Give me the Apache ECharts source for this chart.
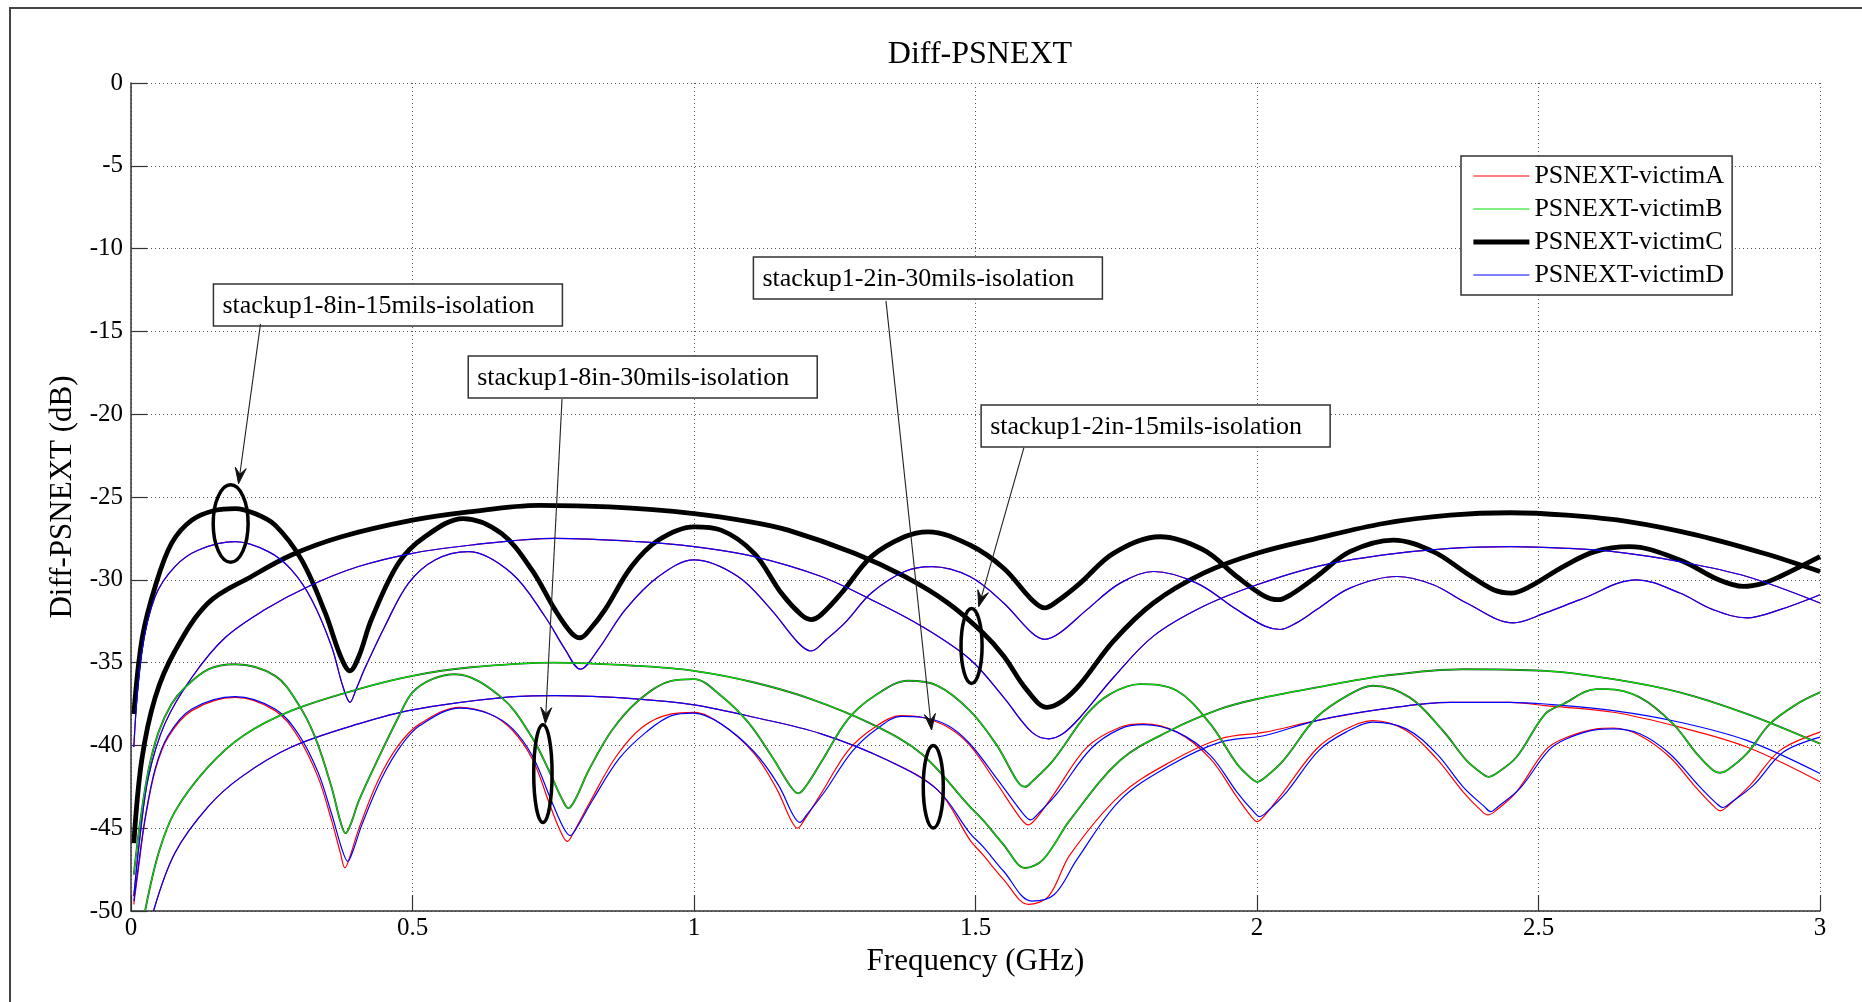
<!DOCTYPE html>
<html>
<head>
<meta charset="utf-8">
<title>Diff-PSNEXT</title>
<script src="https://cdn.jsdelivr.net/npm/echarts@6/dist/echarts.min.js"></script>
<style>
  html, body { margin: 0; padding: 0; background: #fff; }
  #main { width: 1862px; height: 1002px; }
</style>
</head>
<body>
<div id="main"></div>
<script>
// legend names (one per victim)
const victimNames = ['PSNEXT-victimA', 'PSNEXT-victimB', 'PSNEXT-victimC', 'PSNEXT-victimD'];

// [frequency GHz, dB]
// victim C (B lies under it) - 15mils isolation
const c8in15 = [[0.005,-38.1],[0.02,-33.5],[0.043,-30.4],[0.072,-27.8],[0.108,-26.4],[0.15,-25.8],[0.185,-25.7],[0.22,-26.0],[0.256,-26.7],[0.303,-28.8],[0.345,-32.0],[0.372,-34.6],[0.389,-35.5],[0.405,-34.6],[0.427,-32.4],[0.475,-29.0],[0.522,-27.4],[0.59,-26.3],[0.658,-27.2],[0.712,-29.4],[0.753,-31.8],[0.782,-33.2],[0.798,-33.5],[0.815,-33.0],[0.842,-31.8],[0.889,-29.2],[0.937,-27.6],[1.0,-26.8],[1.048,-27.0],[1.107,-28.4],[1.155,-30.8],[1.19,-32.1],[1.208,-32.4],[1.226,-32.1],[1.262,-30.8],[1.315,-28.6],[1.374,-27.4],[1.416,-27.1],[1.49,-27.9],[1.55,-29.3],[1.6,-31.2],[1.623,-31.7],[1.645,-31.3],[1.686,-30.2],[1.745,-28.4],[1.828,-27.4],[1.905,-28.2],[1.964,-29.8],[2.014,-31.0],[2.038,-31.2],[2.06,-30.9],[2.106,-29.8],[2.165,-28.3],[2.242,-27.6],[2.313,-28.3],[2.372,-29.6],[2.42,-30.6],[2.452,-30.8],[2.485,-30.4],[2.544,-29.2],[2.6,-28.3],[2.662,-28.0],[2.751,-28.8],[2.82,-30.0],[2.864,-30.4],[2.9,-30.2],[2.929,-29.8],[3.0,-28.6]];
const c2in15 = [[0.005,-45.9],[0.019,-40.9],[0.043,-37.1],[0.078,-34.3],[0.137,-31.4],[0.214,-29.8],[0.285,-28.5],[0.374,-27.4],[0.5,-26.4],[0.6,-25.9],[0.724,-25.5],[0.85,-25.6],[1.0,-26.0],[1.1,-26.5],[1.167,-27.0],[1.285,-28.4],[1.374,-29.8],[1.451,-31.4],[1.513,-33.2],[1.55,-34.6],[1.59,-36.6],[1.627,-37.7],[1.655,-37.3],[1.686,-36.3],[1.745,-33.7],[1.816,-31.4],[1.905,-29.6],[2.0,-28.4],[2.106,-27.5],[2.225,-26.6],[2.343,-26.1],[2.45,-25.95],[2.55,-26.1],[2.662,-26.5],[2.781,-27.3],[2.9,-28.4],[3.0,-29.5]];

// victims A and D - 15mils isolation (they overlap)
const ad8in15 = [[0.005,-40.1],[0.019,-34.4],[0.043,-31.0],[0.078,-29.2],[0.12,-28.2],[0.185,-27.7],[0.244,-28.3],[0.285,-29.4],[0.321,-31.2],[0.356,-34.0],[0.376,-36.4],[0.389,-37.4],[0.4,-36.6],[0.416,-35.3],[0.451,-32.8],[0.493,-30.2],[0.54,-28.8],[0.599,-28.3],[0.676,-29.6],[0.735,-32.2],[0.771,-34.2],[0.798,-35.4],[0.83,-34.2],[0.878,-31.8],[0.937,-29.8],[1.0,-28.8],[1.078,-29.8],[1.137,-31.8],[1.185,-33.8],[1.208,-34.3],[1.235,-33.6],[1.268,-32.6],[1.315,-30.8],[1.374,-29.5],[1.422,-29.2],[1.49,-29.8],[1.55,-31.4],[1.6,-33.2],[1.623,-33.6],[1.65,-33.2],[1.698,-31.8],[1.757,-30.2],[1.816,-29.5],[1.893,-30.2],[1.964,-31.8],[2.014,-32.8],[2.041,-33.0],[2.07,-32.6],[2.106,-31.8],[2.165,-30.5],[2.248,-29.8],[2.313,-30.3],[2.372,-31.4],[2.455,-32.6],[2.512,-32.0],[2.574,-31.2],[2.674,-30.0],[2.751,-30.8],[2.81,-31.8],[2.87,-32.3],[2.929,-31.8],[3.0,-30.9]];
const ad2in15 = [[0.005,-49.1],[0.016,-45.5],[0.031,-41.9],[0.06,-38.7],[0.108,-35.9],[0.167,-33.5],[0.238,-31.8],[0.315,-30.4],[0.404,-29.2],[0.5,-28.4],[0.605,-27.9],[0.753,-27.5],[0.901,-27.7],[1.0,-28.0],[1.107,-28.6],[1.226,-29.8],[1.315,-31.2],[1.404,-32.8],[1.49,-34.8],[1.55,-37.1],[1.6,-39.2],[1.63,-39.6],[1.655,-39.3],[1.686,-38.3],[1.745,-35.9],[1.816,-33.4],[1.905,-31.6],[2.0,-30.3],[2.106,-29.2],[2.225,-28.5],[2.343,-28.1],[2.45,-28.0],[2.55,-28.1],[2.633,-28.3],[2.751,-28.9],[2.87,-29.8],[3.0,-31.4]];

// victims B and C - 30mils isolation
const bc8in30 = [[0.005,-47.8],[0.016,-44.7],[0.031,-41.5],[0.049,-39.2],[0.072,-37.5],[0.096,-36.5],[0.138,-35.4],[0.185,-35.1],[0.256,-35.8],[0.297,-37.5],[0.327,-39.5],[0.356,-42.5],[0.372,-44.6],[0.381,-45.3],[0.392,-44.6],[0.404,-43.4],[0.439,-40.8],[0.475,-38.3],[0.5,-36.8],[0.535,-36.0],[0.576,-35.7],[0.658,-37.1],[0.712,-39.5],[0.742,-41.5],[0.765,-43.2],[0.777,-43.8],[0.79,-43.2],[0.813,-41.5],[0.854,-39.1],[0.901,-37.3],[0.96,-36.1],[1.0,-36.0],[1.048,-37.0],[1.096,-38.6],[1.137,-40.6],[1.172,-42.5],[1.185,-42.9],[1.198,-42.5],[1.226,-41.0],[1.274,-38.4],[1.321,-37.0],[1.38,-36.1],[1.433,-36.4],[1.49,-37.9],[1.538,-40.0],[1.575,-42.2],[1.588,-42.5],[1.6,-42.2],[1.638,-40.9],[1.698,-38.1],[1.739,-36.9],[1.792,-36.3],[1.858,-36.7],[1.917,-38.7],[1.964,-41.1],[1.99,-42.0],[2.0,-42.2],[2.012,-42.0],[2.047,-40.9],[2.106,-38.3],[2.165,-36.9],[2.206,-36.4],[2.271,-37.1],[2.33,-39.1],[2.372,-40.9],[2.4,-41.7],[2.411,-41.9],[2.425,-41.7],[2.461,-40.7],[2.512,-38.1],[2.544,-37.5],[2.603,-36.6],[2.621,-36.6],[2.68,-37.1],[2.739,-38.7],[2.781,-40.5],[2.81,-41.5],[2.822,-41.65],[2.835,-41.5],[2.87,-40.5],[2.911,-38.7],[2.959,-37.5],[3.0,-36.8]];
const bc2in30 = [[0.025,-50],[0.049,-46.5],[0.078,-44.0],[0.137,-41.3],[0.2,-39.4],[0.285,-37.9],[0.404,-36.6],[0.5,-35.8],[0.6,-35.3],[0.75,-35.0],[0.9,-35.2],[1.0,-35.5],[1.107,-36.2],[1.208,-37.2],[1.315,-38.7],[1.404,-40.5],[1.49,-43.7],[1.513,-44.5],[1.55,-46.0],[1.588,-47.4],[1.62,-46.9],[1.668,-44.5],[1.757,-40.9],[1.846,-39.1],[1.935,-37.8],[2.0,-37.2],[2.106,-36.5],[2.225,-35.8],[2.366,-35.4],[2.512,-35.5],[2.633,-36.0],[2.751,-36.8],[2.87,-38.1],[3.0,-39.9]];

// victim A - 30mils isolation
const a8in30 = [[0.005,-49.6],[0.013,-47.5],[0.025,-44.5],[0.043,-41.5],[0.066,-39.5],[0.108,-37.9],[0.185,-37.1],[0.256,-37.9],[0.297,-39.5],[0.332,-41.9],[0.356,-44.5],[0.372,-46.5],[0.38,-47.4],[0.39,-46.6],[0.404,-45.1],[0.439,-42.1],[0.475,-40.0],[0.513,-38.7],[0.584,-37.7],[0.637,-38.1],[0.678,-39.1],[0.714,-40.9],[0.743,-43.5],[0.763,-45.2],[0.775,-45.8],[0.787,-45.2],[0.814,-43.5],[0.861,-40.7],[0.908,-38.9],[0.96,-38.1],[1.0,-38.0],[1.048,-38.7],[1.107,-40.5],[1.148,-42.7],[1.172,-44.5],[1.184,-45.0],[1.196,-44.5],[1.226,-42.9],[1.274,-40.3],[1.321,-38.9],[1.368,-38.2],[1.404,-38.3],[1.451,-38.9],[1.49,-40.0],[1.538,-42.3],[1.58,-44.4],[1.594,-44.8],[1.608,-44.4],[1.638,-43.0],[1.698,-40.1],[1.757,-38.9],[1.798,-38.7],[1.858,-39.2],[1.917,-40.8],[1.964,-43.1],[1.99,-44.3],[2.0,-44.6],[2.012,-44.3],[2.047,-42.8],[2.106,-40.2],[2.153,-39.1],[2.206,-38.5],[2.265,-39.1],[2.319,-40.8],[2.366,-42.8],[2.4,-44.0],[2.41,-44.2],[2.422,-44.0],[2.461,-42.8],[2.512,-40.3],[2.544,-39.6],[2.603,-39.0],[2.633,-38.95],[2.68,-39.4],[2.733,-40.7],[2.781,-42.6],[2.812,-43.7],[2.823,-43.95],[2.835,-43.7],[2.876,-42.4],[2.929,-40.3],[3.0,-39.2]];
const a2in30 = [[0.04,-50],[0.078,-46.5],[0.137,-43.7],[0.196,-41.9],[0.285,-40.1],[0.404,-38.7],[0.5,-37.85],[0.664,-37.1],[0.753,-37.0],[0.901,-37.2],[1.0,-37.55],[1.107,-38.3],[1.226,-39.3],[1.344,-40.9],[1.433,-42.7],[1.49,-45.7],[1.513,-46.6],[1.55,-48.1],[1.594,-49.6],[1.63,-49.1],[1.668,-46.6],[1.757,-43.0],[1.846,-41.0],[1.935,-39.6],[2.014,-39.2],[2.106,-38.5],[2.225,-37.8],[2.343,-37.4],[2.45,-37.4],[2.512,-37.6],[2.633,-38.0],[2.751,-38.9],[2.87,-40.1],[3.0,-42.2]];

// victim D - 30mils isolation
const d8in30 = [[0.005,-49.4],[0.013,-47.3],[0.025,-44.4],[0.043,-41.4],[0.066,-39.4],[0.108,-37.8],[0.185,-37.05],[0.256,-37.8],[0.297,-39.3],[0.332,-41.6],[0.356,-44.1],[0.375,-46.3],[0.385,-47.0],[0.395,-46.3],[0.41,-44.8],[0.445,-42.0],[0.48,-40.0],[0.513,-38.8],[0.584,-37.75],[0.637,-38.1],[0.678,-39.0],[0.714,-40.7],[0.745,-43.2],[0.767,-44.9],[0.78,-45.45],[0.793,-44.9],[0.82,-43.3],[0.867,-40.8],[0.915,-39.2],[0.96,-38.2],[1.0,-38.05],[1.048,-38.7],[1.107,-40.4],[1.15,-42.4],[1.176,-44.2],[1.188,-44.65],[1.2,-44.2],[1.232,-42.8],[1.28,-40.4],[1.325,-39.0],[1.368,-38.25],[1.404,-38.3],[1.451,-38.8],[1.49,-39.9],[1.54,-42.1],[1.584,-44.1],[1.598,-44.5],[1.612,-44.1],[1.645,-42.9],[1.705,-40.2],[1.757,-39.0],[1.798,-38.75],[1.858,-39.2],[1.917,-40.6],[1.964,-42.8],[1.994,-44.0],[2.005,-44.3],[2.018,-44.0],[2.053,-42.8],[2.11,-40.3],[2.158,-39.2],[2.206,-38.6],[2.265,-39.0],[2.319,-40.5],[2.366,-42.5],[2.404,-43.7],[2.415,-44.0],[2.428,-43.7],[2.467,-42.6],[2.518,-40.3],[2.55,-39.6],[2.603,-39.05],[2.633,-39.0],[2.68,-39.3],[2.733,-40.5],[2.781,-42.3],[2.816,-43.5],[2.828,-43.75],[2.84,-43.5],[2.882,-42.4],[2.935,-40.4],[3.0,-39.5]];
const d2in30 = [[0.04,-50],[0.078,-46.5],[0.137,-43.7],[0.196,-41.9],[0.285,-40.1],[0.404,-38.7],[0.5,-37.85],[0.664,-37.1],[0.753,-37.0],[0.901,-37.2],[1.0,-37.55],[1.107,-38.3],[1.226,-39.3],[1.344,-40.9],[1.433,-42.7],[1.49,-45.3],[1.513,-46.1],[1.55,-47.6],[1.6,-49.4],[1.64,-49.0],[1.68,-46.9],[1.757,-43.3],[1.846,-41.2],[1.935,-39.8],[2.014,-39.4],[2.106,-38.5],[2.225,-37.8],[2.343,-37.4],[2.45,-37.4],[2.512,-37.5],[2.633,-37.9],[2.751,-38.6],[2.87,-39.7],[3.0,-41.7]];

// annotations, in data coordinates (frequency, dB)
const annoText = ['stackup1-8in-15mils-isolation', 'stackup1-8in-30mils-isolation', 'stackup1-2in-30mils-isolation', 'stackup1-2in-15mils-isolation'];
const annoBoxAt = [[0.1464,-12.14],[0.599,-16.49],[1.1055,-10.51],[1.510,-19.44]];
const annoFrom = [[0.230,-14.55],[0.7656,-19.08],[1.341,-13.16],[1.586,-22.02]];
const annoTip = [[0.191,-24.2],[0.736,-38.67],[1.422,-39.07],[1.5057,-31.62]];
const ringCenter = [[0.177,-26.6],[0.7316,-41.7],[1.425,-42.5],[1.493,-34.0]];
const ringRadius = [[0.031,2.34],[0.0163,2.95],[0.0178,2.49],[0.0187,2.26]];

const FONT = 'Liberation Serif, Times New Roman, serif';

function curve(name, data, color, width, z) {
  return {
    name: name, type: 'line', data: data, z: z || 2,
    symbol: 'none', showSymbol: false, smooth: 0.35,
    lineStyle: { color: color, width: width },
    itemStyle: { color: color },
    emphasis: { disabled: true },
    silent: true
  };
}

const RED = '#ff0000', GREEN = '#00e000', BLUE = '#0000ff', GREY = '#3c3c3c';

const series = [
  curve(victimNames[0], ad8in15, RED, 1.2),
  curve(victimNames[0], ad2in15, RED, 1.2),
  curve(victimNames[0], a8in30, RED, 1.2),
  curve(victimNames[0], a2in30, RED, 1.2),
  curve(victimNames[1], c8in15, GREEN, 1.2),
  curve(victimNames[1], c2in15, GREEN, 1.2),
  curve(victimNames[1], bc8in30, GREEN, 1.1, 3),
  curve(victimNames[1], bc2in30, GREEN, 1.1, 3),
  curve(victimNames[2], c8in15, '#000', 4.8),
  curve(victimNames[2], c2in15, '#000', 4.8),
  curve(victimNames[2], bc8in30, GREY, 1.9),
  curve(victimNames[2], bc2in30, GREY, 1.9),
  curve(victimNames[3], ad8in15, BLUE, 1.2),
  curve(victimNames[3], ad2in15, BLUE, 1.2),
  curve(victimNames[3], d8in30, BLUE, 1.2),
  curve(victimNames[3], d2in30, BLUE, 1.2)
];

const chart = echarts.init(document.getElementById('main'), null, { renderer: 'canvas' });

const axisCommon = {
  type: 'value',
  nameLocation: 'middle',
  nameTextStyle: { fontFamily: FONT, fontSize: 31, color: '#000' },
  axisLine: { show: true, onZero: false, lineStyle: { color: '#333', width: 1.5 } },
  axisTick: { show: true, inside: true, length: 16, lineStyle: { color: '#333', width: 1.2 } },
  axisLabel: { fontFamily: FONT, fontSize: 25, color: '#000' },
  splitLine: { show: true, lineStyle: { color: '#555', width: 1, type: [1, 3] } }
};

const option = {
  animation: false,
  backgroundColor: '#fff',
  title: {
    text: 'Diff-PSNEXT',
    left: 975, top: 34, textAlign: 'center',
    textStyle: { fontFamily: FONT, fontSize: 32, fontWeight: 'normal', color: '#000' }
  },
  grid: { left: 131, right: 42, top: 83, bottom: 91, containLabel: false },
  xAxis: Object.assign({}, axisCommon, {
    min: 0, max: 3, interval: 0.5,
    name: 'Frequency (GHz)', nameGap: 33,
    axisLabel: Object.assign({}, axisCommon.axisLabel, { margin: 5 })
  }),
  yAxis: Object.assign({}, axisCommon, {
    min: -50, max: 0, interval: 5,
    name: 'Diff-PSNEXT (dB)', nameGap: 49,
    axisLabel: Object.assign({}, axisCommon.axisLabel, { margin: 8 })
  }),
  legend: {
    data: victimNames,
    orient: 'vertical',
    left: 1461, top: 156,
    padding: [7, 8, 7, 10],
    itemWidth: 56, itemHeight: 26, itemGap: 7,
    itemStyle: { opacity: 0 },
    lineStyle: { width: 'inherit' },
    backgroundColor: '#fff',
    borderColor: '#333', borderWidth: 1.5, borderRadius: 0,
    selectedMode: false,
    textStyle: { fontFamily: FONT, fontSize: 26, color: '#000', lineHeight: 26 }
  },
  series: series
};

chart.setOption(option);

// annotations: boxes, arrows and rings placed through the chart's scales
function toPx(p) { return chart.convertToPixel({ gridIndex: 0 }, p); }

const graphics = [{
  type: 'rect', z: 200, silent: true,
  shape: { x: 10, y: 8, width: 1900, height: 1100 },
  style: { fill: 'none', stroke: '#444', lineWidth: 2 }
}];

annoText.forEach(function (txt, i) {
  const b = toPx(annoBoxAt[i]);
  graphics.push({
    type: 'rect', z: 150, silent: true,
    shape: { x: b[0], y: b[1], width: 349, height: 42 },
    style: { fill: '#fff', stroke: '#333', lineWidth: 1.5 }
  });
  graphics.push({
    type: 'text', z: 151, silent: true,
    x: b[0] + 9, y: b[1] + 22,
    style: { text: txt, font: '26px ' + FONT, fill: '#000', verticalAlign: 'middle', align: 'left' }
  });

  // arrow
  const s = toPx(annoFrom[i]);
  const t = toPx(annoTip[i]);
  const dx = t[0] - s[0], dy = t[1] - s[1];
  const len = Math.sqrt(dx * dx + dy * dy);
  const ux = dx / len, uy = dy / len;
  const L = 16, W = 11;
  const bx = t[0] - ux * L, by = t[1] - uy * L;
  const nx = t[0] - ux * L * 0.6, ny = t[1] - uy * L * 0.6;
  graphics.push({
    type: 'line', z: 150, silent: true,
    shape: { x1: s[0], y1: s[1], x2: nx, y2: ny },
    style: { stroke: '#222', lineWidth: 1.1 }
  });
  graphics.push({
    type: 'polygon', z: 150, silent: true,
    shape: { points: [t, [bx - uy * W / 2, by + ux * W / 2], [nx, ny], [bx + uy * W / 2, by - ux * W / 2]] },
    style: { fill: '#111', stroke: '#111', lineWidth: 1 }
  });

  // ring
  const c = toPx(ringCenter[i]);
  const e = toPx([ringCenter[i][0] + ringRadius[i][0], ringCenter[i][1] + ringRadius[i][1]]);
  graphics.push({
    type: 'ellipse', z: 150, silent: true,
    shape: { cx: c[0], cy: c[1], rx: Math.abs(e[0] - c[0]), ry: Math.abs(c[1] - e[1]) },
    style: { fill: 'none', stroke: '#000', lineWidth: 3.5 }
  });
});

chart.setOption({ graphic: graphics });
</script>
</body>
</html>
